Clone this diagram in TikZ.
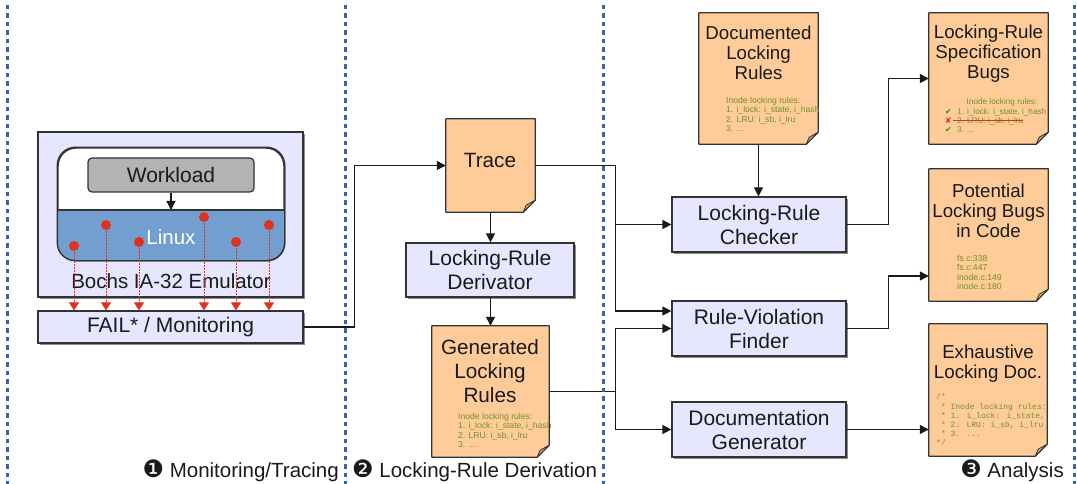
\documentclass[tikz,border=0pt]{standalone}
\usepackage{fontspec}
\setmainfont{Liberation Sans}
\newfontfamily\dejavu{DejaVu Sans}
\newfontfamily\monof{Liberation Mono}
\usetikzlibrary{arrows.meta,calc}
\definecolor{lav}{HTML}{E6E6FF}
\definecolor{orng}{HTML}{FFCC99}
\definecolor{foldc}{HTML}{D4A373}
\definecolor{lnx}{HTML}{729FCF}
\definecolor{wl}{HTML}{B3B3B3}
\definecolor{sepc}{HTML}{3465A4}
\definecolor{grn}{HTML}{70902A}
\definecolor{redd}{HTML}{E0301E}
\definecolor{edge}{HTML}{333333}
\definecolor{ink}{HTML}{1A1A1A}
\definecolor{chk}{HTML}{3C8C00}
\newcommand\numfnt{\dejavu\fontsize{24}{24}\selectfont}
\newcommand\docpath[1]{%
  \filldraw[fill=orng, draw=edge, line width=1.2pt, line join=round]
    (#1.north west) -- (#1.north east) -- ($(#1.south east)+(0,-12)$)
    -- ($(#1.south east)+(-12,0)$) -- (#1.south west) -- cycle;
  \filldraw[fill=foldc, draw=edge, line width=0.8pt, line join=round]
    ($(#1.south east)+(0,-12)$) -- ($(#1.south east)+(-12,0)$)
    -- ($(#1.south east)+(-9,-7)$) -- cycle;
}
\tikzset{
  box/.style={draw=edge, line width=1.2pt, fill=lav, align=center, inner sep=0pt,
    text=ink, font=\fontsize{21}{24}\selectfont,
    preaction={fill=black!45, transform canvas={xshift=1.8pt, yshift=-1.8pt}}},
  doc/.style={inner sep=0pt, draw=none},
  bigtitle/.style={align=center, inner sep=0pt, text=ink, font=\fontsize{20.7}{24}\selectfont},
  doctitle/.style={align=center, inner sep=0pt, text=ink, font=\fontsize{18.7}{20}\selectfont},
  small/.style={text=grn, align=left, inner sep=0pt, font=\fontsize{8.6}{9.5}\selectfont},
  smallb/.style={text=grn, align=left, inner sep=0pt, font=\fontsize{8.2}{9}\selectfont},
  mono/.style={text=grn, align=left, inner sep=0pt, font=\monof\fontsize{8}{9.2}\selectfont},
  conn/.style={draw=ink, line width=1.2pt, -{Triangle[length=9pt,width=9pt]}},
  redconn/.style={draw=redd, line width=1pt, dash pattern=on 1.5pt off 1.5pt,
    -{Triangle[length=8pt,width=10pt]}},
  sepline/.style={draw=sepc, line width=3pt, dash pattern=on 4.5pt off 4pt},
  lbl/.style={inner sep=0pt, text=ink, font=\fontsize{20.5}{24}\selectfont},
}
\begin{document}
\begin{tikzpicture}[x=1pt, y=-1pt]
\useasboundingbox (0,0) rectangle (1077,484);

% ---------- Monitoring / Tracing ----------
\node[box, minimum width=265pt, minimum height=165pt] (bochs) at (170.5,214.5) {};
\node[draw=edge, line width=1.4pt, fill=white, rounded corners=18pt,
      minimum width=226pt, minimum height=112pt, inner sep=0pt,
      preaction={fill=black!45, transform canvas={xshift=1.5pt, yshift=-1.5pt}}] (os) at (171,204) {};
\begin{scope}
  \clip[rounded corners=18pt] (os.north west) rectangle (os.south east);
  \fill[lnx] (58,210) rectangle (os.south east);
\end{scope}
\draw[edge, line width=1.4pt, rounded corners=18pt] (os.north west) rectangle (os.south east);
\draw[edge, line width=1.2pt] (58,210) -- (284,210);
\node[draw=edge, line width=1.2pt, fill=wl, rounded corners=4pt, minimum width=166pt,
      minimum height=34pt, inner sep=0pt, text=ink, font=\fontsize{21}{24}\selectfont] (wl) at (171,175) {Workload};
\coordinate (lt) at (171,210);
\draw[conn] (wl.south) -- (lt);
\node[lbl, text=white] (linux) at (171,237) {Linux};
\node[lbl] (bochst) at (171,281) {Bochs IA-32 Emulator};

\node[box, minimum width=265pt, minimum height=32pt] (fail) at (170.5,327) {FAIL* / Monitoring};

\foreach \i/\x/\y in {1/74/246, 2/106/225, 3/139/242, 4/204/217, 5/236/242, 6/269/225} {
  \coordinate (p\i) at (\x,\y);
  \fill[redd] (p\i) circle (5pt);
  \draw[redconn] (p\i) -- (p\i |- fail.north);
}

% ---------- Locking-Rule Derivation ----------
\node[doc, minimum width=89pt, minimum height=93pt] (trace) at (490.5,165.5) {};
\docpath{trace}
\node[bigtitle] (tracet) at (490,160) {Trace};

\node[box, minimum width=168pt, minimum height=54pt] (deriv) at (490,270) {Locking-Rule\\Derivator};

\node[doc, minimum width=117pt, minimum height=131pt] (gen) at (490.5,391.5) {};
\docpath{gen}
\node[bigtitle] (gent) at (490,371) {Generated\\Locking\\Rules};
\node[small, anchor=north west] (gens) at (458,413) {Inode locking rules:\\1. i\_lock: i\_state, i\_hash\\2. LRU: i\_sb, i\_lru\\3. ...};

% ---------- Analysis ----------
\node[doc, minimum width=119pt, minimum height=131pt] (docd) at (758.5,78.5) {};
\docpath{docd}
\node[doctitle] (docdt) at (758.5,53) {Documented\\Locking\\Rules};
\node[small, anchor=north west] (docds) at (726,97) {Inode locking rules:\\1. i\_lock: i\_state, i\_hash\\2. LRU: i\_sb, i\_lru\\3. ...};

\node[box, minimum width=174pt, minimum height=55pt] (checker) at (759,224.5) {Locking-Rule\\Checker};
\node[box, minimum width=174pt, minimum height=55pt] (finder) at (759,328.5) {Rule-Violation\\Finder};
\node[box, minimum width=174pt, minimum height=55pt] (docgen) at (759,429.5) {Documentation\\Generator};

\node[doc, minimum width=119pt, minimum height=131pt] (spec) at (988.5,78.5) {};
\docpath{spec}
\node[doctitle] (spect) at (988.5,54) {Locking-Rule\\Specification\\Bugs};
\node[smallb, anchor=west] (spech) at (966.5,102) {Inode locking rules:};
\node[smallb, anchor=west] (s1) at (957,112) {1. i\_lock: i\_state, i\_hash};
\node[smallb, anchor=west] (s2) at (957,121) {2. LRU: i\_sb, i\_lru};
\node[smallb, anchor=west] (s3) at (957,129.5) {3. ...};
\draw[redd, line width=1.2pt] ($(s2.west)+(-4,-0.5)$) -- ($(s2.east)+(0,-0.5)$);
\node[inner sep=0pt, text=chk, font=\dejavu\fontsize{8}{8}\selectfont] (c1) at (948.5,112) {✔};
\node[inner sep=0pt, text=redd, font=\dejavu\fontsize{8}{8}\selectfont] (c2) at (948.5,121) {✘};
\node[inner sep=0pt, text=chk, font=\dejavu\fontsize{8}{8}\selectfont] (c3) at (948.5,129.5) {✔};

\node[doc, minimum width=119pt, minimum height=132pt] (pot) at (988.5,235) {};
\docpath{pot}
\node[doctitle] (pott) at (988.5,210.5) {Potential\\Locking Bugs\\in Code};
\node[small, anchor=north west] (pots) at (957,255) {fs.c:338\\fs.c:447\\inode.c:149\\inode.c:180};

\node[doc, minimum width=118pt, minimum height=132pt] (exh) at (988,390) {};
\docpath{exh}
\node[doctitle] (exht) at (988,364) {Exhaustive\\Locking Doc.};
\node[mono, anchor=north west] (exhs) at (936,394) {/*\\~* Inode locking rules:\\~* 1. i\_lock: i\_state,\\~* 2. LRU: i\_sb, i\_lru\\~* 3. ...\\*/};

% ---------- connectors ----------
\draw[conn] (fail.east) -- ++(51,0) |- (trace.west);
\draw[conn] (trace.south) -- (trace.south |- deriv.north);
\draw[conn] (gen.north |- deriv.south) -- (gen.north);
\draw[conn] (trace.east) -- ++(80,0) coordinate (j1) |- (checker.west);
\draw[conn] (j1) |- ($(finder.west)+(0,-17.5)$);
\draw[conn] (gen.east) -- ++(66,0) coordinate (j2) |- (finder.west);
\draw[conn] (j2) |- (docgen.west);
\draw[conn] (docd.south) -- (docd.south |- checker.north);
\draw[conn] (checker.east) -- ++(42,0) |- (spec.west);
\draw[conn] (finder.east) -- ++(42,0) |- ($(pot.west)+(0,41)$);
\draw[conn] (docgen.east) -- (docgen.east -| exh.west);

% ---------- separators ----------
\draw[sepline] (7,5) -- (7,484);
\draw[sepline] (345,5) -- (345,484);
\draw[sepline] (603,5) -- (603,484);
\draw[sepline] (1074,5) -- (1074,484);

% ---------- phase labels ----------
\node[lbl, anchor=base east] (lab1) at (339,477) {{\numfnt ❶} Monitoring/Tracing};
\node[lbl, anchor=base west] (lab2) at (352,477) {{\numfnt ❷} Locking-Rule Derivation};
\node[lbl, anchor=base east] (lab3) at (1064,477) {{\numfnt ❸} Analysis};
\end{tikzpicture}
\end{document}
